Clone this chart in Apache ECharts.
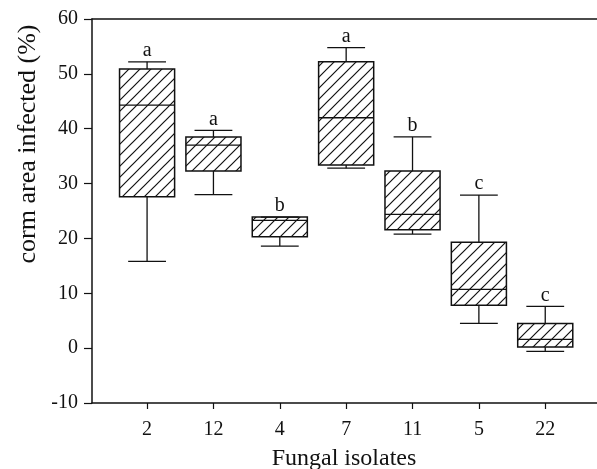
<!DOCTYPE html>
<html>
<head>
<meta charset="utf-8">
<script src="https://cdn.jsdelivr.net/npm/echarts@6/dist/echarts.min.js"></script>
<style>html,body{margin:0;padding:0;background:#fff;}#c{width:597px;height:469px;}</style>
</head>
<body>
<div id="c"></div>
<script>
const categories = ['2', '12', '4', '7', '11', '5', '22'];
const whiskerLow  = [15.8, 28.0, 18.6, 32.8, 20.8, 4.5, -0.6];
const q1          = [27.6, 32.3, 20.3, 33.4, 21.6, 7.8, 0.2];
const median      = [44.3, 37.0, 23.3, 42.0, 24.4, 10.7, 1.6];
const q3          = [50.9, 38.5, 23.9, 52.2, 32.3, 19.3, 4.5];
const whiskerHigh = [52.2, 39.7, 23.9, 54.8, 38.5, 27.9, 7.6];
const letters     = ['a', 'a', 'b', 'a', 'b', 'c', 'c'];
const yTicks = [-10, 0, 10, 20, 30, 40, 50, 60];

const FONT = '"Liberation Serif", "Times New Roman", serif';

// hatch pattern
const tile = 11;
const pc = document.createElement('canvas');
pc.width = tile; pc.height = tile;
const pctx = pc.getContext('2d');
pctx.strokeStyle = '#111';
pctx.lineWidth = 1.2;
pctx.beginPath();
pctx.moveTo(0, tile); pctx.lineTo(tile, 0);
pctx.moveTo(-2, 2); pctx.lineTo(2, -2);
pctx.moveTo(tile - 2, tile + 2); pctx.lineTo(tile + 2, tile - 2);
pctx.stroke();

const boxData = categories.map((c, i) => [i + 1, whiskerLow[i], q1[i], median[i], q3[i], whiskerHigh[i], i]);

const chart = echarts.init(document.getElementById('c'));
chart.setOption({
  backgroundColor: '#fff',
  animation: false,
  grid: { left: 92, right: 0, top: 19, bottom: 66 },
  xAxis: [{
    type: 'value', min: 0.17, max: 7.78, position: 'bottom',
    splitLine: { show: false },
    axisLine: { onZero: false, lineStyle: { color: '#111', width: 1.5 } },
    axisTick: { show: true, customValues: [1, 2, 3, 4, 5, 6, 7], length: 6, inside: false, lineStyle: { color: '#111', width: 1.2 } },
    axisLabel: {
      customValues: [1, 2, 3, 4, 5, 6, 7],
      formatter: v => categories[Math.round(v) - 1] || '',
      color: '#111', fontFamily: FONT, fontSize: 20, margin: 17
    }
  }, {
    type: 'value', min: 0.17, max: 7.78, position: 'top',
    splitLine: { show: false },
    axisLine: { show: true, onZero: false, lineStyle: { color: '#111', width: 1.5 } },
    axisTick: { show: false }, axisLabel: { show: false }
  }],
  yAxis: {
    type: 'value', min: -10, max: 60, interval: 10,
    splitLine: { show: false },
    axisLine: { show: true, onZero: false, lineStyle: { color: '#111', width: 1.5 } },
    axisTick: { show: true, length: 8, lineStyle: { color: '#111', width: 1.2 } },
    axisLabel: { color: '#111', fontFamily: FONT, fontSize: 20, margin: 14,
      formatter: v => yTicks.includes(v) ? String(v) : '' }
  },
  graphic: [
    { type: 'text', x: 344, y: 459, style: { text: 'Fungal isolates', font: '24px ' + FONT, fill: '#111', align: 'center', verticalAlign: 'middle' } },
    { type: 'text', x: 28, y: 144, rotation: Math.PI / 2, style: { text: 'corm area infected (%)', font: '26px ' + FONT, fill: '#111', align: 'center', verticalAlign: 'middle' } }
  ],
  series: [{
    type: 'custom',
    data: boxData,
    encode: { x: 0, y: [1, 2, 3, 4, 5] },
    renderItem: function (params, api) {
      const idx = api.value(0);
      const x = api.coord([idx, 0])[0];
      const halfW = api.size([0.83, 0])[0] / 2;
      const capHalf = api.size([0.57, 0])[0] / 2;
      const yLo = api.coord([idx, api.value(1)])[1];
      const yQ1 = api.coord([idx, api.value(2)])[1];
      const yMed = api.coord([idx, api.value(3)])[1];
      const yQ3 = api.coord([idx, api.value(4)])[1];
      const yHi = api.coord([idx, api.value(5)])[1];
      const k = api.value(6);
      const ls = { stroke: '#111', lineWidth: 1.3 };
      const children = [
        { type: 'rect', shape: { x: x - halfW, y: yQ3, width: 2 * halfW, height: yQ1 - yQ3 },
          style: { fill: { image: pc, repeat: 'repeat' }, stroke: '#111', lineWidth: 1.5 } },
        { type: 'line', shape: { x1: x - halfW, y1: yMed, x2: x + halfW, y2: yMed }, style: ls },
        { type: 'line', shape: { x1: x, y1: yQ3, x2: x, y2: yHi }, style: ls },
        { type: 'line', shape: { x1: x - capHalf, y1: yHi, x2: x + capHalf, y2: yHi }, style: ls },
        { type: 'line', shape: { x1: x, y1: yQ1, x2: x, y2: yLo }, style: ls },
        { type: 'line', shape: { x1: x - capHalf, y1: yLo, x2: x + capHalf, y2: yLo }, style: ls },
        { type: 'text', x: x, y: yHi - 1, style: { text: letters[k], font: '20px ' + FONT, fill: '#111', align: 'center', verticalAlign: 'bottom' } }
      ];
      return { type: 'group', children: children };
    }
  }]
});
</script>
</body>
</html>
